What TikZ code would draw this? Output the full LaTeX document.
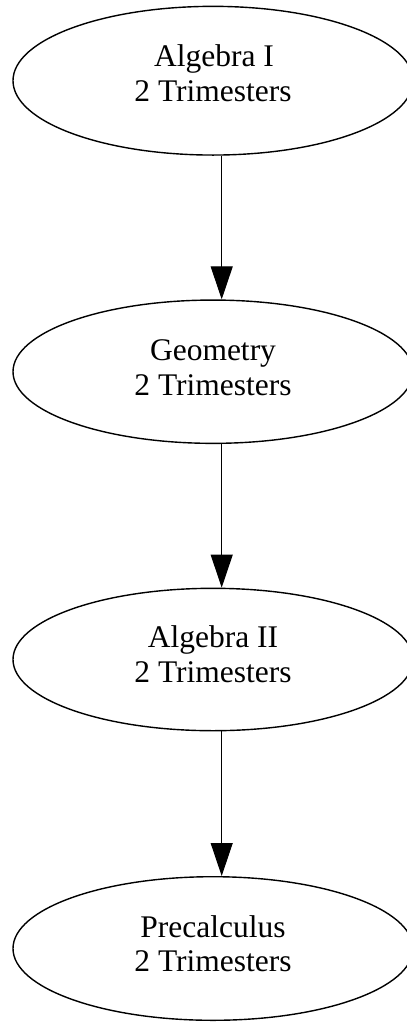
\documentclass[tikz,border=0pt]{standalone}
\usepackage{fontspec}
\setmainfont{Liberation Serif}
\usetikzlibrary{arrows.meta,shapes.geometric}
\begin{document}
\begin{tikzpicture}[x=1pt,y=-1pt,
  course/.style={draw=black, line width=1.4pt, ellipse, inner sep=0pt, minimum width=400pt},
  txt/.style={anchor=base, inner sep=0pt, font=\fontsize{31.5}{35}\selectfont},
  arr/.style={draw=black, line width=1pt, -{Triangle[length=33pt,width=22pt]}}]
\useasboundingbox (0,0) rectangle (407,1023);
\fill[white] (0,0) rectangle (407,1023);
\node[course, minimum height=148.7pt] (e1) at (213,80.7) {};
\node[course, minimum height=143.3pt] (e2) at (213,371.7) {};
\node[course, minimum height=142.4pt] (e3) at (213,659.5) {};
\node[course, minimum height=143.6pt] (e4) at (213,948.5) {};
\node[txt] (t1a) at (214,66.7) {Algebra I};
\node[txt] (t1b) at (213,101.7) {2 Trimesters};
\node[txt] (t2a) at (213,360) {Geometry};
\node[txt] (t2b) at (213,395) {2 Trimesters};
\node[txt] (t3a) at (213,647.7) {Algebra II};
\node[txt] (t3b) at (213,682.7) {2 Trimesters};
\node[txt] (t4a) at (213,937.3) {Precalculus};
\node[txt] (t4b) at (213,971.7) {2 Trimesters};
\draw[arr] ([xshift=8.7pt]e1.south) -- ([xshift=8.7pt]e2.north);
\draw[arr] ([xshift=8.7pt]e2.south) -- ([xshift=8.7pt]e3.north);
\draw[arr] ([xshift=8.7pt]e3.south) -- ([xshift=8.7pt]e4.north);
\end{tikzpicture}
\end{document}
